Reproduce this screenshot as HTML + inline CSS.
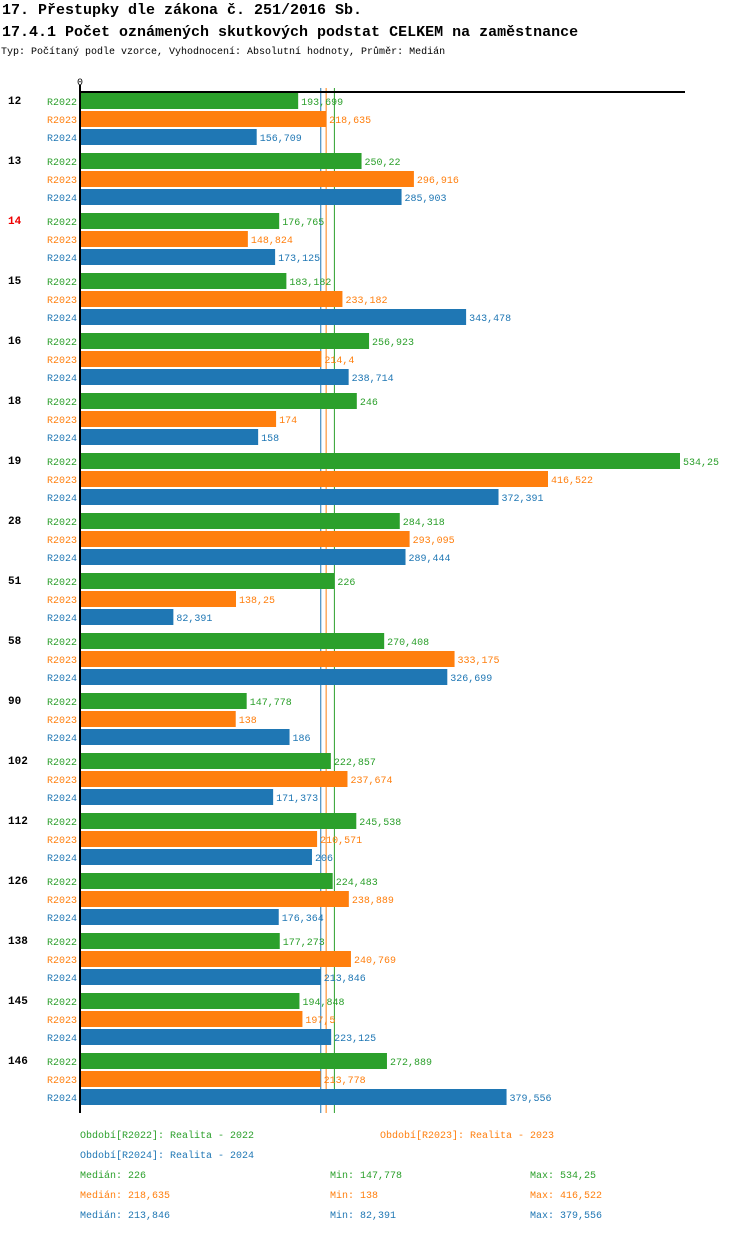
<!DOCTYPE html>
<html><head><meta charset="utf-8"><style>
body{margin:0;background:#fff;font-family:"Liberation Mono",monospace;}
svg text{font-family:"Liberation Mono",monospace;}
</style></head><body>
<svg id="c" width="750" height="1232" xmlns="http://www.w3.org/2000/svg">
<text x="2" y="14" font-size="15" font-weight="bold" fill="#000">17. Přestupky dle zákona č. 251/2016 Sb.</text>
<text x="2" y="36" font-size="15" font-weight="bold" fill="#000">17.4.1 Počet oznámených skutkových podstat CELKEM na zaměstnance</text>
<text x="1" y="54" font-size="10" fill="#000">Typ: Počítaný podle vzorce, Vyhodnocení: Absolutní hodnoty, Průměr: Medián</text>
<g id="plot"></g>
</svg>
<script>
const categories=["12","13","14","15","16","18","19","28","51","58","90","102","112","126","138","145","146"];
const r2022=[193.699,250.22,176.765,183.182,256.923,246,534.25,284.318,226,270.408,147.778,222.857,245.538,224.483,177.273,194.848,272.889];
const r2023=[218.635,296.916,148.824,233.182,214.4,174,416.522,293.095,138.25,333.175,138,237.674,210.571,238.889,240.769,197.5,213.778];
const r2024=[156.709,285.903,173.125,343.478,238.714,158,372.391,289.444,82.391,326.699,186,171.373,206,176.364,213.846,223.125,379.556];
const seriesNames=["R2022","R2023","R2024"];
const medians=[226,218.635,213.846];
const mins=[147.778,138,82.391];
const maxs=[534.25,416.522,379.556];
const colors=["#2ca02c","#ff7f0e","#1f77b4"];
const NS="http://www.w3.org/2000/svg";
const g=document.getElementById("plot");
const x0=81,scale=599/534.25;
const xs=v=>x0+v*scale;
function mk(t,a,txt){const e=document.createElementNS(NS,t);for(const k in a)e.setAttribute(k,a[k]);if(txt!=null)e.textContent=txt;g.appendChild(e);return e;}
function fmt(v){return String(v).replace('.',',');}
// median lines (behind bars)
[2,1,0].forEach(i=>{
const l=mk("line",{x1:xs(medians[i]),x2:xs(medians[i]),y1:88,y2:1113,stroke:colors[i],"stroke-width":1});


});
const data=[r2022,r2023,r2024];
categories.forEach((c,ci)=>{
const gy=93+ci*60;
const t=mk("text",{x:8,y:gy+11,"font-size":11,"font-weight":"bold",fill:c==="14"?"#e00":"#000"},c);


data.forEach((s,si)=>{
const y=gy+si*18;
const lb=mk("text",{x:47,y:y+12,"font-size":10,fill:colors[si]},seriesNames[si]);


const r=mk("rect",{x:x0,y:y,width:xs(s[ci])-x0,height:16,fill:colors[si]});


const v=mk("text",{x:xs(s[ci])+3,y:y+12,"font-size":10,fill:colors[si]},fmt(s[ci]));


});
});
// axes
const ax=mk("rect",{x:79,y:91,width:606,height:2,fill:"#000"});


const ay=mk("rect",{x:79,y:85,width:2,height:1028,fill:"#000"});


const z=mk("text",{x:77,y:85,"font-size":10,fill:"#000"},"0");


// legend
const leg=[["Období[R2022]: Realita - 2022",80,1138,0],["Období[R2023]: Realita - 2023",380,1138,1],["Období[R2024]: Realita - 2024",80,1158,2]];
leg.forEach(l=>{const e=mk("text",{x:l[1],y:l[2],"font-size":10,fill:colors[l[3]]},l[0]);

});
[0,1,2].forEach(i=>{const y=1178+i*20;
const a=mk("text",{x:80,y:y,"font-size":10,fill:colors[i]},"Medián: "+fmt(medians[i]));


const b=mk("text",{x:330,y:y,"font-size":10,fill:colors[i]},"Min: "+fmt(mins[i]));


const d=mk("text",{x:530,y:y,"font-size":10,fill:colors[i]},"Max: "+fmt(maxs[i]));


});
</script>
</body></html>
